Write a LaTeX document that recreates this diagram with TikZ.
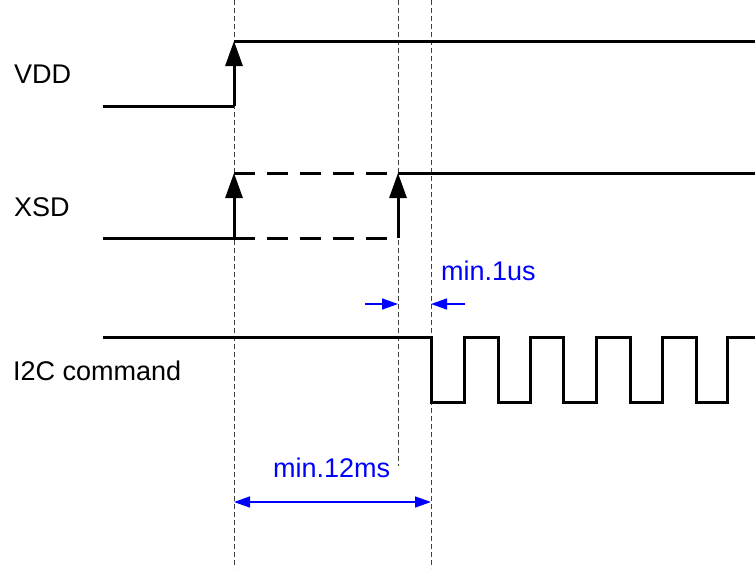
\documentclass[tikz,border=0pt]{standalone}
\usepackage{fontspec}
\setmainfont{Liberation Sans}
\usetikzlibrary{arrows.meta}
\begin{document}
\begin{tikzpicture}[x=1pt,y=-1pt,
  sig/.style={line width=3pt,black},
  sigarrow/.style={line width=3pt,black,-{Triangle[length=25pt,width=17pt]}},
  xdash/.style={line width=3pt,black,dash pattern=on 21pt off 12pt},
  guide/.style={line width=1pt,black!75,dash pattern=on 5pt off 3pt},
  lbl/.style={font=\fontsize{27}{32}\selectfont,inner sep=0pt,anchor=base west},
  dim/.style={font=\fontsize{27}{32}\selectfont,inner sep=0pt,anchor=base west,blue},
  dimarrow/.style={line width=1.5pt,blue,-{Triangle[length=16pt,width=11pt]}},
  dimboth/.style={line width=1.5pt,blue,{Triangle[length=16pt,width=11pt]}-{Triangle[length=16pt,width=11pt]}}]
\useasboundingbox (0,0) rectangle (755,568);
% guide lines
\coordinate (g1t) at (234,0);   \coordinate (g1b) at (234,568);
\coordinate (g2t) at (398,0);   \coordinate (g2b) at (398,466);
\coordinate (g3t) at (431,0);   \coordinate (g3b) at (431,568);
\draw[guide] (g1t) -- (g1b);
\draw[guide] (g2t) -- (g2b);
\draw[guide] (g3t) -- (g3b);
% labels
\node[lbl] (vdd) at (14,83) {VDD};
\node[lbl] (xsd) at (14,216) {XSD};
\node[lbl] (i2c) at (13,380) {I2C command};
% VDD
\coordinate (v0) at (103,106);
\coordinate (v1) at (234,106);
\coordinate (v2) at (234,41);
\coordinate (v3) at (755,41);
\draw[sig] (v0) -- (v1);
\draw[sigarrow] (v1) -- (v2);
\draw[sig] (v2) -- (v3);
% XSD
\coordinate (x0) at (103,238);
\coordinate (x1) at (234,238);
\coordinate (x2) at (234,173);
\coordinate (x3) at (388,238);
\coordinate (x4) at (388,173);
\coordinate (x5) at (398,238);
\coordinate (x6) at (398,173);
\coordinate (x7) at (755,173);
\draw[sig] (x0) -- (x1);
\draw[xdash] (x1) -- (x3);
\draw[xdash] (x2) -- (x4);
\draw[sigarrow] (x1) -- (x2);
\draw[sigarrow] (x5) -- (x6);
\draw[sig] (x6) -- (x7);
% I2C
\coordinate (c0) at (103,337);
\draw[sig,line join=miter] (c0) -- (431,337) -- (431,402) -- (464,402) -- (464,337)
  -- (498,337) -- (498,402) -- (530,402) -- (530,337)
  -- (563,337) -- (563,402) -- (596,402) -- (596,337)
  -- (630,337) -- (630,402) -- (662,402) -- (662,337)
  -- (696,337) -- (696,402) -- (727,402) -- (727,337) -- (755,337);
% min.1us
\coordinate (a1s) at (365,304); \coordinate (a1e) at (398,304);
\coordinate (a2s) at (465,304); \coordinate (a2e) at (431,304);
\draw[dimarrow] (a1s) -- (a1e);
\draw[dimarrow] (a2s) -- (a2e);
\node[dim] (us) at (441,280) {min.1us};
% min.12ms
\coordinate (m1) at (234,502); \coordinate (m2) at (431,502);
\draw[dimboth] (m1) -- (m2);
\node[dim] (ms) at (273,477) {min.12ms};
\end{tikzpicture}
\end{document}
